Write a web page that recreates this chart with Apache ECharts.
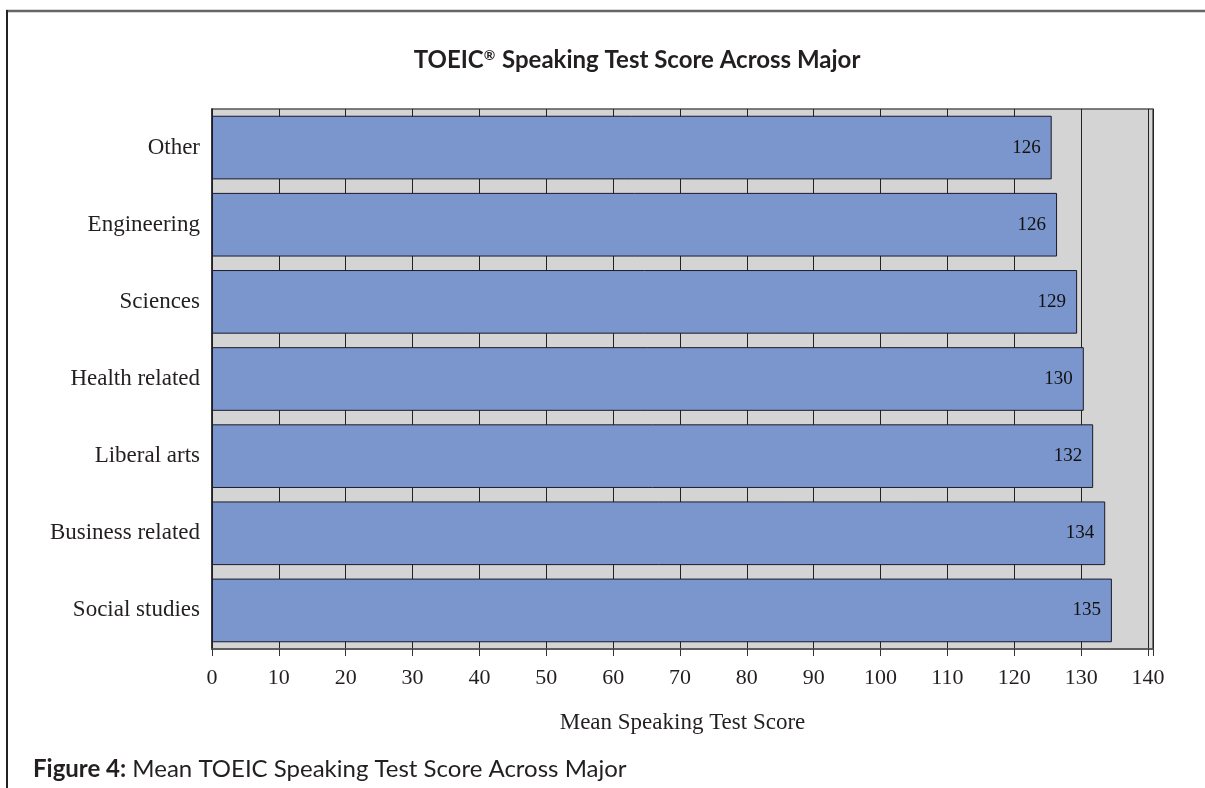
<!DOCTYPE html>
<html>
<head>
<meta charset="utf-8">
<script src="https://cdn.jsdelivr.net/npm/echarts@6/dist/echarts.min.js"></script>
<style>
  html, body { margin: 0; padding: 0; background: #fff; }
  #chart { width: 1205px; height: 788px; }
</style>
</head>
<body>
<div id="chart"></div>
<script>
const majors = ['Other', 'Engineering', 'Sciences', 'Health related', 'Liberal arts', 'Business related', 'Social studies'];
const meanScores = [125.6, 126.4, 129.4, 130.4, 131.8, 133.6, 134.6];
const shownScores = [126, 126, 129, 130, 132, 134, 135];

const serif = '"Liberation Serif", "DejaVu Serif", serif';
const sans = 'Lato, "Open Sans", sans-serif';

const chart = echarts.init(document.getElementById('chart'));
chart.setOption({
  animation: false,
  backgroundColor: '#fff',
  title: {
    text: 'TOEIC{sup|®} Speaking Test Score Across Major',
    left: 632,
    top: 43,
    textAlign: 'center',
    textStyle: {
      fontFamily: sans,
      fontWeight: 'bold',
      fontSize: 24,
      color: '#231f20',
      rich: {
        sup: { fontFamily: sans, fontWeight: 'bold', fontSize: 14, color: '#231f20', padding: [0, 1, 9, 0] }
      }
    }
  },
  grid: {
    left: 212, right: 52, top: 109, bottom: 139,
    show: true,
    backgroundColor: '#d4d4d4',
    borderColor: '#555',
    borderWidth: 1.5
  },
  xAxis: {
    type: 'value',
    min: 0,
    max: 140.75,
    interval: 10,
    name: 'Mean Speaking Test Score',
    nameLocation: 'middle',
    nameGap: 62,
    nameTextStyle: { fontFamily: serif, fontSize: 23, color: '#231f20' },
    axisLine: { show: true, lineStyle: { color: '#555', width: 1.5 } },
    axisTick: { show: true, length: 7, lineStyle: { color: '#333' } },
    axisLabel: {
      margin: 18,
      fontFamily: serif,
      fontSize: 22,
      color: '#231f20',
      formatter: v => (v % 10 === 0 ? String(v) : '')
    },
    splitLine: { show: true, lineStyle: { color: '#222', width: 1 } }
  },
  yAxis: {
    type: 'category',
    data: majors,
    inverse: true,
    axisLine: { show: true, lineStyle: { color: '#222', width: 1.5 } },
    axisTick: { show: false },
    axisLabel: { margin: 12, fontFamily: serif, fontSize: 23, color: '#231f20' }
  },
  series: [{
    type: 'bar',
    data: meanScores,
    barCategoryGap: '17.5%',
    itemStyle: { color: '#7b96cc', borderColor: '#1a1a2a', borderWidth: 1 },
    label: {
      show: true,
      position: 'insideRight',
      distance: 11,
      fontFamily: serif,
      fontSize: 19,
      color: '#111',
      formatter: p => String(shownScores[p.dataIndex])
    }
  }],
  graphic: [
    { type: 'line', shape: { x1: 6, y1: 11, x2: 1205, y2: 11 }, style: { stroke: '#666', lineWidth: 2.5 } },
    { type: 'line', shape: { x1: 7, y1: 10, x2: 7, y2: 788 }, style: { stroke: '#222', lineWidth: 2 } },
    {
      type: 'text',
      left: 33,
      top: 757,
      style: {
        text: '{b|Figure 4:} Mean TOEIC Speaking Test Score Across Major',
        font: '24px ' + sans,
        fill: '#231f20',
        rich: {
          b: { fontFamily: sans, fontWeight: 'bold', fontSize: 24, fill: '#231f20' }
        }
      }
    }
  ]
});
</script>
</body>
</html>
